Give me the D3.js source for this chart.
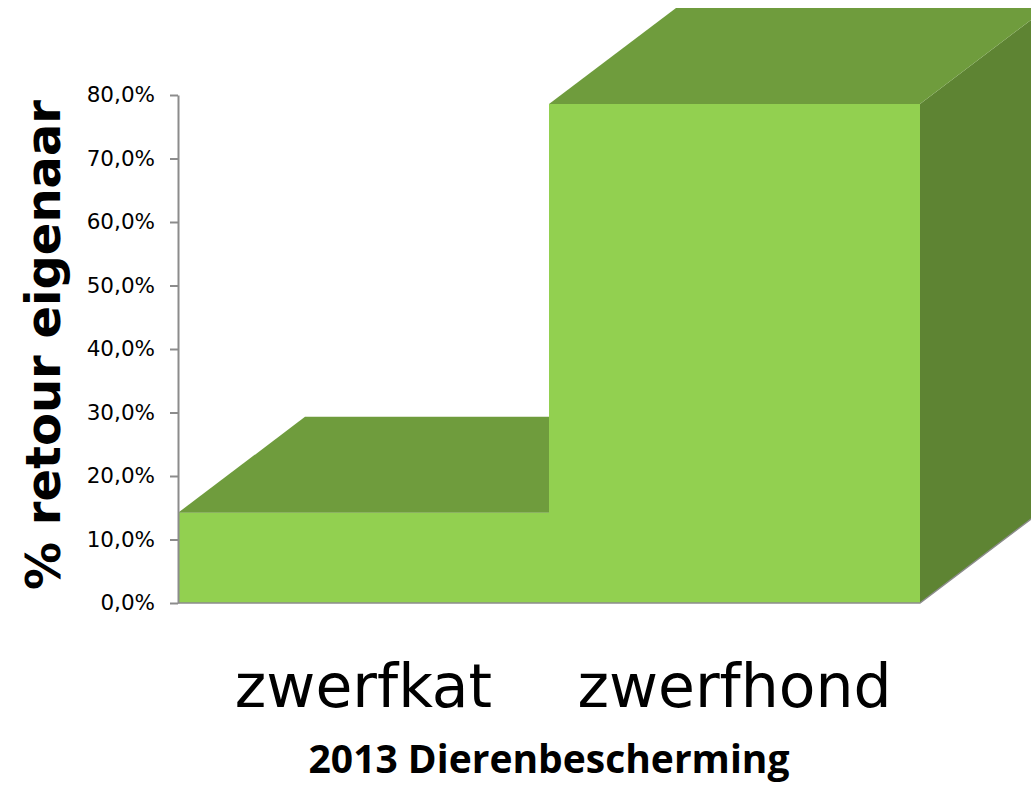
<!DOCTYPE html>
<html>
<head>
<meta charset="utf-8">
<script src="https://cdn.jsdelivr.net/npm/d3@7"></script>
<style>
  body { margin: 0; background: #fff; }
  svg { display: block; }
</style>
</head>
<body>
<div id="chart"></div>
<script>
const categories = ['zwerfkat', 'zwerfhond']
const values = [0.142, 0.786]
const yTicks = [0, 0.1, 0.2, 0.3, 0.4, 0.5, 0.6, 0.7, 0.8]
const yTitle = '% retour eigenaar'
const chartTitle = '2013 Dierenbescherming'

const width = 1031
const height = 785
const depth = { dx: 127, dy: -96 }

const svg = d3.select('#chart')
  .append('svg')
    .attr('width', width)
    .attr('height', height)

const x = d3.scaleBand()
  .domain(categories)
  .range([178, 920])
  .padding(0)

const y = d3.scaleLinear()
  .domain([0, 0.8])
  .range([603, 95])

const locale = d3.formatLocale({ decimal: ',', thousands: '.', grouping: [3], currency: ['€', ''] })
const fmt = locale.format('.1%')

const line = d3.line()
  .x(d => d[0])
  .y(d => d[1])

// bars, back to front order
categories.forEach((c, i) => {
  const x0 = x(c)
  const x1 = x0 + x.bandwidth()
  const yTop = y(values[i])
  const yBase = y(0)

  // side face
  svg.append('path')
    .attr('d', line([
      [x1, yTop], [x1 + depth.dx, yTop + depth.dy],
      [x1 + depth.dx, yBase + depth.dy], [x1, yBase]
    ]) + 'Z')
    .attr('fill', '#5e8433')

  // front face
  svg.append('path')
    .attr('d', line([[x0, yTop], [x1, yTop], [x1, yBase], [x0, yBase]]) + 'Z')
    .attr('fill', '#92d050')

  // top face
  svg.append('path')
    .attr('d', line([
      [x0, yTop], [x0 + depth.dx, yTop + depth.dy],
      [x1 + depth.dx, yTop + depth.dy], [x1, yTop]
    ]) + 'Z')
    .attr('fill', '#6f9c3d')
})

// floor line
svg.append('path')
  .attr('d', line([[x.range()[0], y(0)], [x.range()[1], y(0)], [x.range()[1] + depth.dx, y(0) + depth.dy]]))
  .attr('stroke', '#8c8c8c')
  .attr('stroke-width', 1.5)
  .attr('fill', 'none')

// Axis
const axis = svg.append('g')
  .attr('transform', 'translate(178, 0)')
  .call(d3.axisLeft(y).tickValues(yTicks).tickFormat(fmt).tickSize(8).tickSizeOuter(0))

axis.select('.domain').attr('stroke', '#8c8c8c').attr('stroke-width', 2)
axis.selectAll('.tick line').attr('stroke', '#8c8c8c').attr('stroke-width', 2)
axis.selectAll('.tick text')
  .attr('x', -23)
  .attr('font-family', '"DejaVu Sans", sans-serif')
  .attr('font-size', 21.5)
  .attr('fill', '#000')

// category labels
svg.selectAll('.cat')
  .data(categories)
  .enter()
  .append('text')
    .attr('class', 'cat')
    .attr('x', d => x(d) + x.bandwidth() / 2)
    .attr('y', 707)
    .attr('text-anchor', 'middle')
    .attr('font-family', '"DejaVu Sans", sans-serif')
    .attr('font-size', 60)
    .attr('fill', '#000')
    .text(d => d)

// y title
svg.append('text')
  .attr('transform', 'translate(60, 345) rotate(-90)')
  .attr('text-anchor', 'middle')
  .attr('font-family', '"DejaVu Sans", sans-serif')
  .attr('font-weight', 700)
  .attr('font-size', 48)
  .attr('fill', '#000')
  .text(yTitle)

// title
svg.append('text')
  .attr('x', 549)
  .attr('y', 773)
  .attr('text-anchor', 'middle')
  .attr('font-family', '"Open Sans", sans-serif')
  .attr('font-weight', 700)
  .attr('font-size', 39)
  .attr('fill', '#000')
  .text(chartTitle)
</script>
</body>
</html>
